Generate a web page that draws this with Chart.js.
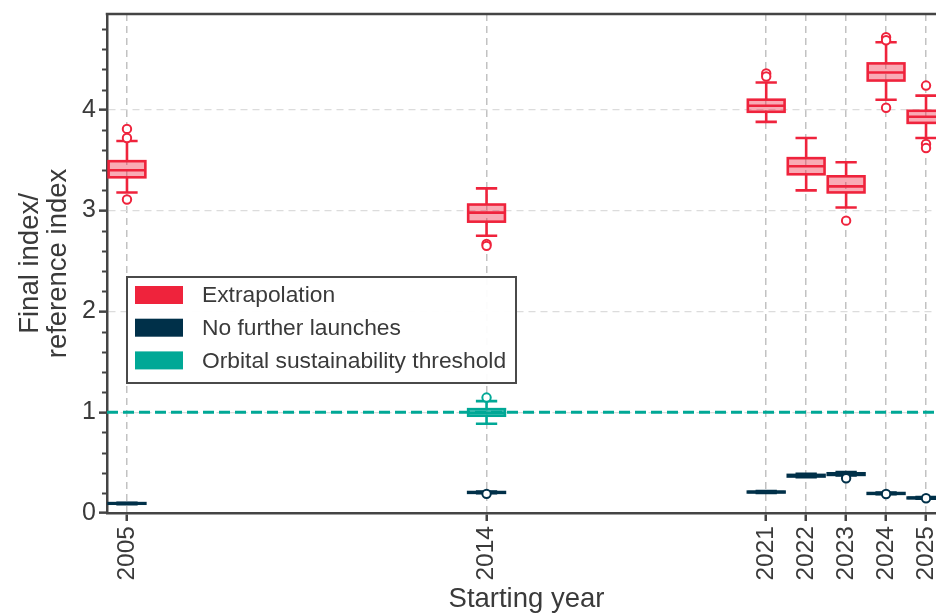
<!DOCTYPE html>
<html>
<head>
<meta charset="utf-8">
<script src="https://cdn.jsdelivr.net/npm/chart.js@4.4.1/dist/chart.umd.min.js"></script>
<style>
  html, body { margin: 0; padding: 0; overflow: hidden; background: #ffffff; }
  #wrap { width: 946px; height: 616px; }
</style>
</head>
<body>
<div id="wrap"><canvas id="chart" width="946" height="616"></canvas></div>
<script>
// Starting years shown on the x axis
const years = [2005, 2014, 2021, 2022, 2023, 2024, 2025];

// Extrapolation: box statistics per starting year
const extLow  = [3.18, 2.75, 3.88, 3.20, 3.03, 4.10, 3.72];
const extQ1   = [3.33, 2.89, 3.98, 3.36, 3.18, 4.29, 3.87];
const extMed  = [3.40, 2.98, 4.04, 3.44, 3.24, 4.37, 3.93];
const extQ3   = [3.49, 3.06, 4.10, 3.52, 3.34, 4.46, 3.99];
const extHigh = [3.69, 3.22, 4.27, 3.72, 3.48, 4.67, 4.14];
const extOutliers = [[3.81, 3.72, 3.11], [2.67, 2.65], [4.36, 4.33], [], [2.90], [4.72, 4.69, 4.02], [4.24, 3.66, 3.62]];

// No further launches
const nflLow  = [0.088, 0.196, 0.200, 0.355, 0.372, 0.186, 0.142];
const nflQ1   = [0.092, 0.200, 0.204, 0.362, 0.378, 0.190, 0.146];
const nflMed  = [0.095, 0.204, 0.208, 0.370, 0.386, 0.194, 0.150];
const nflQ3   = [0.098, 0.208, 0.212, 0.378, 0.394, 0.198, 0.153];
const nflHigh = [0.102, 0.213, 0.217, 0.390, 0.405, 0.203, 0.157];
const nflOutliers = [[], [0.19], [], [], [0.345], [0.188], [0.146]];

// Orbital sustainability threshold run
const ostYears = [2014];
const ostLow  = [0.885];
const ostQ1   = [0.965];
const ostMed  = [0.995];
const ostQ3   = [1.03];
const ostHigh = [1.11];
const ostOutliers = [[1.145]];

// Reference level of the threshold line
const threshold = 1;

const RED = '#EF233C';
const NAVY = '#003049';
const TEAL = '#00A896';
const AXIS = '#444444';
const TEXT = '#3a3a3a';
const FONT = "'Liberation Sans', Arial, sans-serif";

const groups = [
  { label: 'Extrapolation', xs: years, lo: extLow, q1: extQ1, med: extMed, q3: extQ3, hi: extHigh, out: extOutliers,
    color: RED, fill: 'rgba(239,35,60,0.38)' },
  { label: 'No further launches', xs: years, lo: nflLow, q1: nflQ1, med: nflMed, q3: nflQ3, hi: nflHigh, out: nflOutliers,
    color: NAVY, fill: 'rgba(0,48,73,0.6)' },
  { label: 'Orbital sustainability threshold', xs: ostYears, lo: ostLow, q1: ostQ1, med: ostMed, q3: ostQ3, hi: ostHigh, out: ostOutliers,
    color: TEAL, fill: 'rgba(0,168,150,0.6)' }
];

// Outlier markers (listed first so they are painted above the boxes)
const outlierSets = groups.map(g => ({
  type: 'scatter',
  label: g.label + ' outliers',
  data: g.xs.flatMap((x, i) => g.out[i].map(y => ({ x, y }))),
  pointRadius: 4.2,
  pointHoverRadius: 4.2,
  pointBorderWidth: 2,
  pointBorderColor: g.color,
  pointBackgroundColor: '#ffffff'
}));

// Interquartile boxes as floating bars
const boxSets = groups.map((g, gi) => ({
  type: 'bar',
  label: g.label,
  boxGroup: gi,
  data: g.xs.map((x, i) => ({ x, y: [g.q1[i], g.q3[i]] })),
  backgroundColor: g.fill,
  borderWidth: 0,
  grouped: false,
  categoryPercentage: 1,
  barPercentage: 0.92
}));

// Box outlines, medians and whiskers, drawn right after each box dataset
const boxDetail = {
  id: 'boxDetail',
  afterDatasetDraw(chart, args) {
    const ds = chart.data.datasets[args.index];
    if (ds.boxGroup === undefined) return;
    const g = groups[ds.boxGroup];
    const y = chart.scales.y;
    const ctx = chart.ctx;
    const area = chart.chartArea;
    ctx.save();
    ctx.beginPath();
    ctx.rect(area.left, area.top - 4, area.right - area.left, area.bottom - area.top + 4);
    ctx.clip();
    ctx.strokeStyle = g.color;
    ctx.lineWidth = 2.6;
    ctx.lineCap = 'butt';
    args.meta.data.forEach((el, i) => {
      const cx = el.x;
      const half = el.width / 2;
      const cap = el.width * 0.29;
      const pq1 = y.getPixelForValue(g.q1[i]);
      const pq3 = y.getPixelForValue(g.q3[i]);
      const pmed = y.getPixelForValue(g.med[i]);
      const plo = y.getPixelForValue(g.lo[i]);
      const phi = y.getPixelForValue(g.hi[i]);
      ctx.beginPath();
      // whiskers
      ctx.moveTo(cx, pq3); ctx.lineTo(cx, phi);
      ctx.moveTo(cx, pq1); ctx.lineTo(cx, plo);
      // caps
      ctx.moveTo(cx - cap, phi); ctx.lineTo(cx + cap, phi);
      ctx.moveTo(cx - cap, plo); ctx.lineTo(cx + cap, plo);
      ctx.stroke();
      // box outline
      ctx.strokeRect(cx - half, Math.min(pq1, pq3), half * 2, Math.abs(pq1 - pq3));
      // median
      ctx.beginPath();
      ctx.moveTo(cx - half, pmed); ctx.lineTo(cx + half, pmed);
      ctx.stroke();
    });
    ctx.restore();
  }
};

// Dashed threshold line beneath the boxes
const thresholdLine = {
  id: 'thresholdLine',
  beforeDatasetsDraw(chart) {
    const { ctx, chartArea: a, scales: { y } } = chart;
    const py = y.getPixelForValue(threshold);
    ctx.save();
    ctx.strokeStyle = TEAL;
    ctx.lineWidth = 3;
    ctx.setLineDash([11, 5]);
    ctx.beginPath();
    ctx.moveTo(a.left, py);
    ctx.lineTo(a.right, py);
    ctx.stroke();
    ctx.restore();
  }
};

// Minor y ticks, top frame line and the legend
const frameAndLegend = {
  id: 'frameAndLegend',
  afterDraw(chart) {
    const { ctx, chartArea: a, scales: { y } } = chart;
    ctx.save();
    ctx.strokeStyle = AXIS;
    ctx.lineWidth = 2;
    for (let k = 1; k * 0.2 < y.max; k++) {
      if (k % 5 === 0) continue;
      const py = Math.round(y.getPixelForValue(k * 0.2)) + 0.5;
      ctx.beginPath();
      ctx.moveTo(a.left - 5, py);
      ctx.lineTo(a.left, py);
      ctx.stroke();
    }
    ctx.lineWidth = 2.5;
    ctx.beginPath();
    ctx.moveTo(a.left - 1.25, a.top);
    ctx.lineTo(a.right, a.top);
    ctx.stroke();

    // legend
    const lx = a.left + 20, ly = 277, lw = 389, lh = 106;
    ctx.fillStyle = 'rgba(255,255,255,0.95)';
    ctx.fillRect(lx, ly, lw, lh);
    ctx.strokeStyle = '#4a4a4a';
    ctx.lineWidth = 2;
    ctx.strokeRect(lx, ly, lw, lh);
    ctx.font = '22.8px ' + FONT;
    ctx.textBaseline = 'middle';
    ctx.textAlign = 'left';
    groups.forEach((g, i) => {
      const cy = ly + 18 + i * 32.7;
      ctx.fillStyle = g.color;
      ctx.fillRect(lx + 8, cy - 9, 48, 18);
      ctx.fillStyle = TEXT;
      ctx.fillText(g.label, lx + 75, cy + 1);
    });
    ctx.restore();
  }
};

Chart.defaults.font.family = FONT;
Chart.defaults.color = TEXT;

new Chart(document.getElementById('chart'), {
  type: 'bar',
  data: { datasets: [...outlierSets, ...boxSets] },
  plugins: [thresholdLine, boxDetail, frameAndLegend],
  options: {
    responsive: false,
    animation: false,
    events: [],
    devicePixelRatio: 1,
    layout: { autoPadding: false, padding: { top: 14, left: 0, right: 0, bottom: 0 } },
    plugins: { legend: { display: false }, tooltip: { enabled: false } },
    scales: {
      x: {
        type: 'linear',
        offset: false,
        min: 2004.5,
        max: 2025.5,
        afterBuildTicks: s => { s.ticks = years.map(v => ({ value: v })); },
        afterFit: s => { s.height = 103; s.paddingLeft = 0; s.paddingRight = 0; },
        ticks: {
          autoSkip: false, minRotation: 90, maxRotation: 90, padding: 5,
          color: TEXT, font: { size: 24.5 },
          callback: v => String(v)
        },
        grid: { offset: false, color: '#c2c2c2', lineWidth: 1.5, tickColor: AXIS, tickWidth: 2.5, tickLength: 8, tickBorderDash: [] },
        border: { color: AXIS, width: 2.5, dash: [7, 5] },
        title: { display: true, text: 'Starting year', color: TEXT, font: { size: 27.5 }, padding: { top: 0, bottom: 0 } }
      },
      y: {
        min: 0,
        max: 4.95,
        afterFit: s => { s.width = 107; s.paddingTop = 0; s.paddingBottom = 0; },
        ticks: { stepSize: 1, includeBounds: false, padding: 3, color: TEXT, font: { size: 25 } },
        grid: { color: '#dcdcdc', lineWidth: 1.3, tickColor: AXIS, tickWidth: 2.5, tickLength: 8, tickBorderDash: [] },
        border: { color: AXIS, width: 2.5, dash: [7, 5] },
        title: {
          display: true, text: ['Final index/', 'reference index'], color: TEXT,
          font: { size: 27.5, lineHeight: 1.02 }, padding: { top: 16, bottom: 0 }
        }
      }
    }
  }
});
</script>
</body>
</html>
